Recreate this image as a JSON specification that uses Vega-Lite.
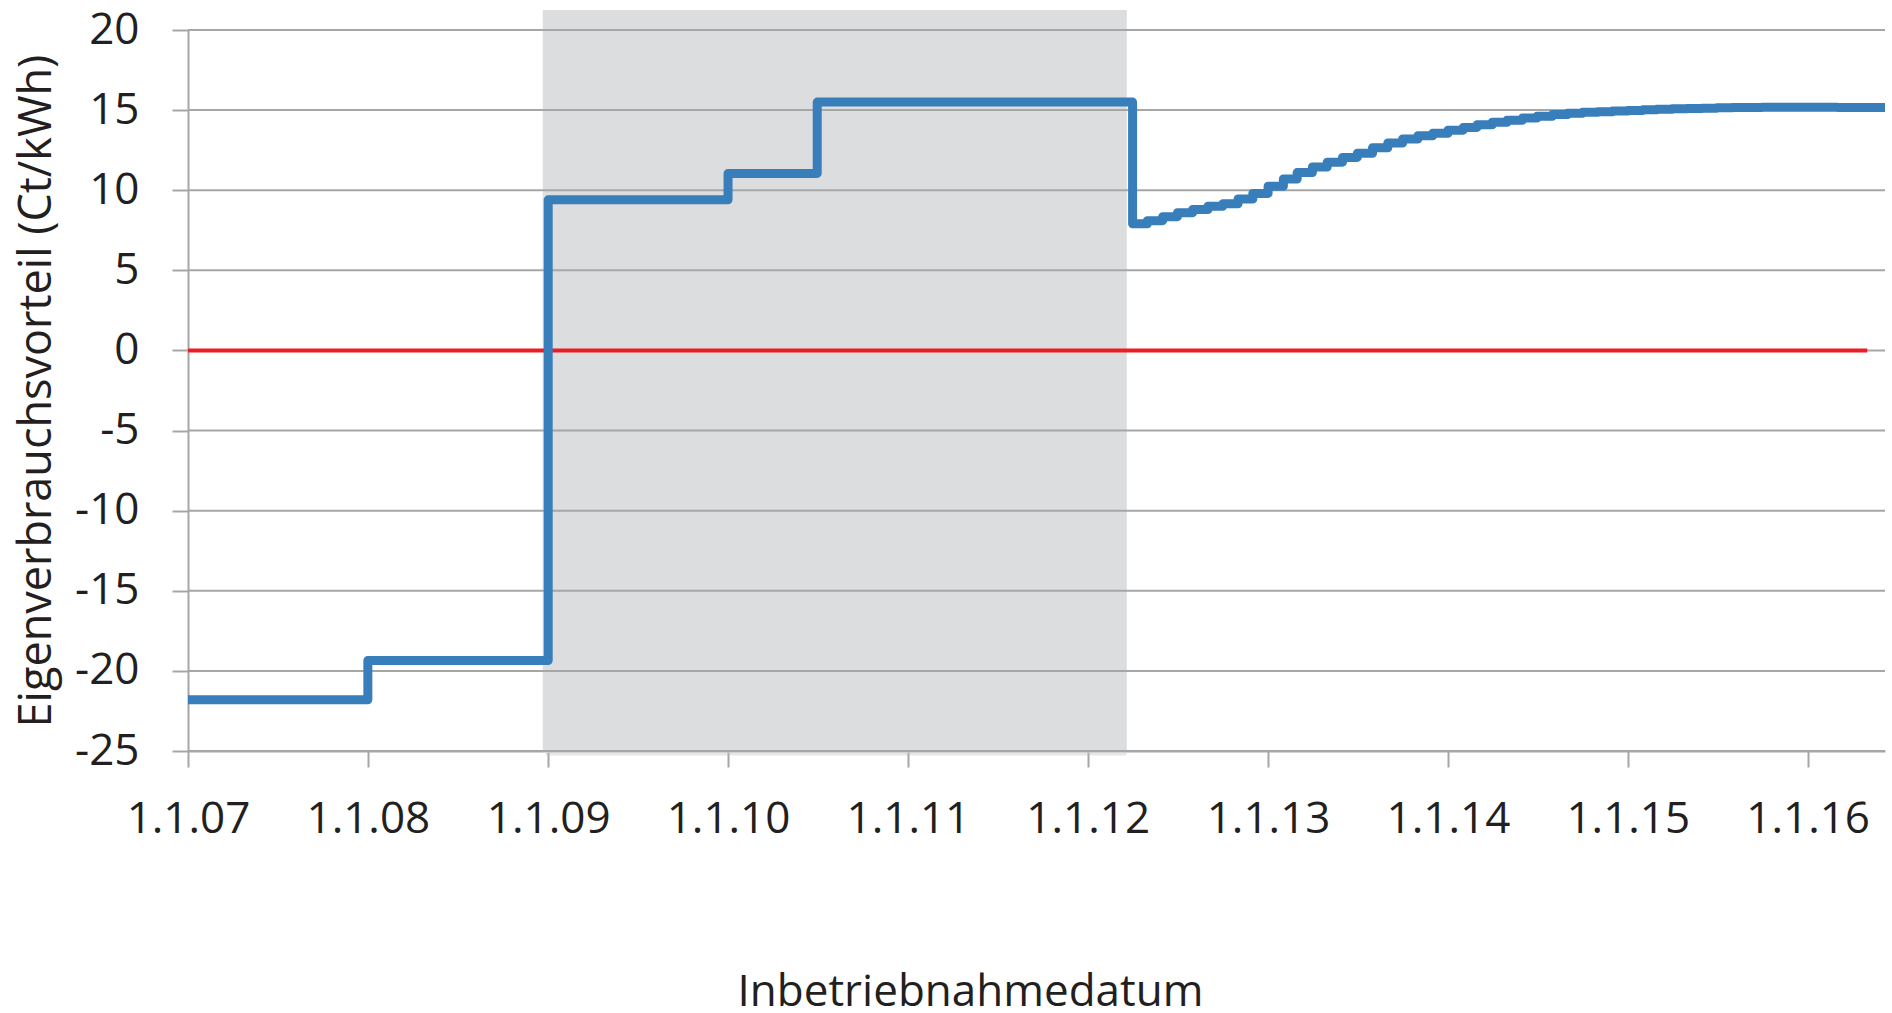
{
  "$schema": "https://vega.github.io/schema/vega-lite/v6.json",
  "autosize": {"type": "none"},
  "padding": {"left": 188, "top": 30, "right": 7, "bottom": 262},
  "width": 1697,
  "height": 721,
  "background": "white",
  "config": {"view": {"stroke": null}, "font": "Open Sans"},
  "datasets": {
    "series": [
      {"date": "2007-01-01", "value": -21.8},
      {"date": "2008-01-01", "value": -19.35},
      {"date": "2009-01-01", "value": 9.4},
      {"date": "2010-01-01", "value": 11.05},
      {"date": "2010-07-01", "value": 15.5},
      {"date": "2012-04-01", "value": 7.9},
      {"date": "2012-05-01", "value": 8.1},
      {"date": "2012-06-01", "value": 8.35},
      {"date": "2012-07-01", "value": 8.6},
      {"date": "2012-08-01", "value": 8.8},
      {"date": "2012-09-01", "value": 9.0},
      {"date": "2012-10-01", "value": 9.15},
      {"date": "2012-11-01", "value": 9.45},
      {"date": "2012-12-01", "value": 9.8},
      {"date": "2013-01-01", "value": 10.25},
      {"date": "2013-02-01", "value": 10.7},
      {"date": "2013-03-01", "value": 11.1},
      {"date": "2013-04-01", "value": 11.45},
      {"date": "2013-05-01", "value": 11.75},
      {"date": "2013-06-01", "value": 12.05},
      {"date": "2013-07-01", "value": 12.3},
      {"date": "2013-08-01", "value": 12.65},
      {"date": "2013-09-01", "value": 12.95},
      {"date": "2013-10-01", "value": 13.2},
      {"date": "2013-11-01", "value": 13.4},
      {"date": "2013-12-01", "value": 13.55},
      {"date": "2014-01-01", "value": 13.75},
      {"date": "2014-02-01", "value": 13.92},
      {"date": "2014-03-01", "value": 14.08},
      {"date": "2014-04-01", "value": 14.24},
      {"date": "2014-05-01", "value": 14.37},
      {"date": "2014-06-01", "value": 14.5},
      {"date": "2014-07-01", "value": 14.62},
      {"date": "2014-08-01", "value": 14.72},
      {"date": "2014-09-01", "value": 14.8},
      {"date": "2014-10-01", "value": 14.86},
      {"date": "2014-11-01", "value": 14.9},
      {"date": "2014-12-01", "value": 14.94},
      {"date": "2015-01-01", "value": 14.98},
      {"date": "2015-02-01", "value": 15.02},
      {"date": "2015-03-01", "value": 15.05},
      {"date": "2015-04-01", "value": 15.08},
      {"date": "2015-05-01", "value": 15.1},
      {"date": "2015-06-01", "value": 15.12},
      {"date": "2015-07-01", "value": 15.14},
      {"date": "2015-08-01", "value": 15.16},
      {"date": "2015-09-01", "value": 15.17},
      {"date": "2015-10-01", "value": 15.18},
      {"date": "2015-11-01", "value": 15.18},
      {"date": "2015-12-01", "value": 15.18},
      {"date": "2016-01-01", "value": 15.18},
      {"date": "2016-02-01", "value": 15.18},
      {"date": "2016-03-01", "value": 15.17},
      {"date": "2016-04-01", "value": 15.17},
      {"date": "2016-05-01", "value": 15.16},
      {"date": "2016-06-01", "value": 15.16},
      {"date": "2016-06-06", "value": 15.16}
    ],
    "shade": [{"start": "2008-12-21", "end": "2012-03-20", "lo": -25.1, "hi": 21.25}],
    "grid": [{"v": -25}, {"v": -20}, {"v": -15}, {"v": -10}, {"v": -5}, {"v": 0}, {"v": 5}, {"v": 10}, {"v": 15}, {"v": 20}],
    "zero": [{"start": "2007-01-01", "end": "2016-05-01", "value": 0}]
  },
  "layer": [
    {
      "data": {"name": "shade"},
      "mark": {"type": "rect", "color": "#BBBBBB", "opacity": 0.35, "xOffset": 3, "yOffset": 3},
      "encoding": {
        "x": {
          "field": "start", "type": "temporal", "title": "Inbetriebnahmedatum",
          "scale": {"type": "utc", "domain": [{"year": 2007, "month": 1, "date": 1, "utc": true}, {"year": 2016, "month": 6, "date": 6, "utc": true}], "nice": false},
          "axis": {
            "values": [
              {"year": 2007, "month": 1, "date": 1, "utc": true},
              {"year": 2008, "month": 1, "date": 1, "utc": true},
              {"year": 2009, "month": 1, "date": 1, "utc": true},
              {"year": 2010, "month": 1, "date": 1, "utc": true},
              {"year": 2011, "month": 1, "date": 1, "utc": true},
              {"year": 2012, "month": 1, "date": 1, "utc": true},
              {"year": 2013, "month": 1, "date": 1, "utc": true},
              {"year": 2014, "month": 1, "date": 1, "utc": true},
              {"year": 2015, "month": 1, "date": 1, "utc": true},
              {"year": 2016, "month": 1, "date": 1, "utc": true}
            ],
            "labelExpr": "utcFormat(datum.value, '%-d.%-m.%y')",
            "grid": false,
            "domain": true,
            "domainColor": "#A6A6A6",
            "domainWidth": 2,
            "ticks": true,
            "tickSize": 16,
            "tickColor": "#A6A6A6",
            "tickWidth": 2,
            "labelFont": "Open Sans",
            "labelFontSize": 44,
            "labelColor": "#231F20",
            "labelBaseline": "middle",
            "labelPadding": 52,
            "labelFlush": false,
            "labelOverlap": false,
            "titleFont": "Open Sans",
            "titleFontSize": 44,
            "titleFontWeight": "normal",
            "titleColor": "#231F20",
            "titleX": 782,
            "titleY": 254,
            "titleAlign": "center",
            "titleBaseline": "alphabetic"
          }
        },
        "x2": {"field": "end"},
        "y": {
          "field": "lo", "type": "quantitative", "title": "Eigenverbrauchsvorteil (Ct/kWh)",
          "scale": {"domain": [-25, 20], "nice": false, "zero": false},
          "axis": {
            "values": [-25, -20, -15, -10, -5, 0, 5, 10, 15, 20],
            "labelExpr": "'' + datum.value",
            "grid": false,
            "domain": true,
            "domainColor": "#A6A6A6",
            "domainWidth": 2,
            "ticks": true,
            "tickSize": 16,
            "tickColor": "#A6A6A6",
            "tickWidth": 2,
            "labelFont": "Open Sans",
            "labelFontSize": 44,
            "labelColor": "#231F20",
            "labelPadding": 33,
            "labelFlush": false,
            "labelOverlap": false,
            "titleFont": "Open Sans",
            "titleFontSize": 45,
            "titleFontWeight": "normal",
            "titleColor": "#231F20",
            "titleX": -152,
            "titleBaseline": "middle"
          }
        },
        "y2": {"field": "hi"}
      }
    },
    {
      "data": {"name": "shade"},
      "mark": {"type": "rect", "color": "#DCDDDF"},
      "encoding": {
        "x": {"field": "start", "type": "temporal", "title": "Inbetriebnahmedatum"},
        "x2": {"field": "end"},
        "y": {"field": "lo", "type": "quantitative", "title": "Eigenverbrauchsvorteil (Ct/kWh)"},
        "y2": {"field": "hi"}
      }
    },
    {
      "data": {"name": "grid"},
      "mark": {"type": "rule", "color": "#A6A6A6", "strokeWidth": 2},
      "encoding": {
        "y": {"field": "v", "type": "quantitative", "title": "Eigenverbrauchsvorteil (Ct/kWh)"}
      }
    },
    {
      "data": {"name": "zero"},
      "mark": {"type": "rule", "color": "#ED1C24", "strokeWidth": 4},
      "encoding": {
        "x": {"field": "start", "type": "temporal", "title": "Inbetriebnahmedatum"},
        "x2": {"field": "end"},
        "y": {"field": "value", "type": "quantitative", "title": "Eigenverbrauchsvorteil (Ct/kWh)"}
      }
    },
    {
      "data": {"name": "series"},
      "mark": {"type": "line", "interpolate": "step-after", "color": "#377EBB", "strokeWidth": 9, "strokeJoin": "round", "strokeCap": "butt"},
      "encoding": {
        "x": {"field": "date", "type": "temporal", "title": "Inbetriebnahmedatum"},
        "y": {"field": "value", "type": "quantitative", "title": "Eigenverbrauchsvorteil (Ct/kWh)"}
      }
    }
  ]
}
